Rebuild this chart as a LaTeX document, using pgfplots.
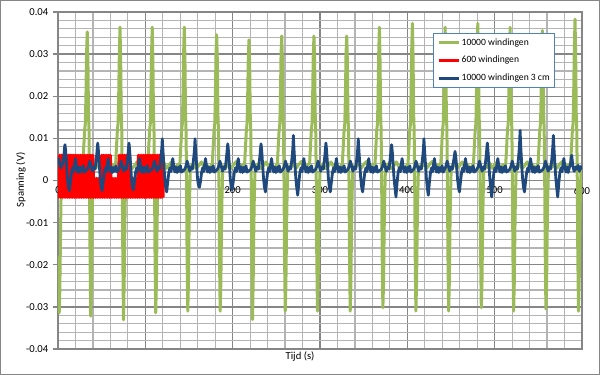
\documentclass[border=0pt]{standalone}
\usepackage{pgfplots}
\pgfplotsset{compat=1.18}
\usepackage{fontspec}
\setmainfont{Carlito}
\definecolor{grn}{RGB}{155,187,89}
\definecolor{blu}{RGB}{31,73,125}
\definecolor{lgblue}{RGB}{79,129,189}
\definecolor{majgrid}{RGB}{134,134,134}
\definecolor{mingrid}{RGB}{180,180,180}
\begin{document}
\begin{tikzpicture}[font=\fontsize{8}{9.6}\selectfont]
\draw[majgrid, line width=0.75pt] (0.375pt,0.375pt) rectangle (449.625pt,280.875pt);
\begin{axis}[
  at={(43.5pt,19.5pt)}, anchor=south west,
  scale only axis, width=393pt, height=252.75pt,
  xmin=0, xmax=600, ymin=-0.04, ymax=0.04,
  scaled x ticks=false, scaled y ticks=false,
  xtick={0,100,200,300,400,500,600},
  xticklabels={0,100,200,300,400,500,600},
  ytick={-0.04,-0.03,-0.02,-0.01,0,0.01,0.02,0.03,0.04},
  yticklabels={-0.04,-0.03,-0.02,-0.01,0,0.01,0.02,0.03,0.04},
  minor xtick={20,40,60,80,120,140,160,180,220,240,260,280,320,340,360,380,420,440,460,480,520,540,560,580},
  minor ytick={-0.038,-0.036,-0.034,-0.032,-0.028,-0.026,-0.024,-0.022,-0.018,-0.016,-0.014,-0.012,-0.008,-0.006,-0.004,-0.002,0.002,0.004,0.006,0.008,0.012,0.014,0.016,0.018,0.022,0.024,0.026,0.028,0.032,0.034,0.036,0.038},
  grid=both,
  major grid style={majgrid, line width=1.1pt},
  minor grid style={mingrid, line width=0.9pt},
  axis line style={majgrid, line width=1.1pt},
  tick style={majgrid, line width=1.1pt},
  xtick style={draw=none},
  minor tick style={draw=none},
  major tick length=3.75pt,
  ytick pos=left, tick align=outside,
  xticklabel style={yshift=128.8pt, font=\fontsize{8}{9.6}\selectfont},
  yticklabel style={font=\fontsize{8}{9.6}\selectfont},
  legend cell align=left,
  legend style={at={(0.7156,0.9377)}, anchor=north west, draw=lgblue, line width=1pt, fill=white,
    font=\fontsize{7.2}{8.6}\selectfont, inner xsep=2.75pt, inner ysep=1.2pt, row sep=2pt,
    nodes={inner xsep=1pt, inner ysep=2.4pt}},
  legend image code/.code={\draw[#1, line width=2.25pt, line cap=butt] (0pt,0pt) -- (15pt,0pt);},
]
\addplot[grn, line width=2.25pt, line join=round] coordinates {
(0,-0.018)(0.6,-0.027)(1.4,-0.0314)(2.1,-0.026)(2.8,-0.014)(3.4,-0.005)(4.2,0.001)(5.2,0.0035)(8,0.0031)(11,0.0042)(14,0.0028)(17,0.0037)(20,0.0044)(23,0.0030)(26,0.0039)
(28.5,0.004)(29.5,0.008)(30.5,0.012)(31.3,0.0135)(32,0.02)(32.7,0.03)(33.5,0.0353)(34.3,0.028)(34.9,0.016)(35.5,0.012)(36.1,0.0)(36.7,-0.018)(37.5,-0.0322)(38.3,-0.024)(38.9,-0.013)(39.5,-0.005)(40.3,0.002)(41.3,0.0035)(44,0.0031)(47,0.0042)(50,0.0029)(53,0.0038)(56,0.0045)(59,0.0030)(62,0.0036)
(66,0.004)(67,0.008)(68,0.012)(68.8,0.0135)(69.5,0.02)(70.2,0.03)(71,0.0364)(71.8,0.028)(72.4,0.016)(73,0.012)(73.6,0.0)(74.2,-0.018)(75,-0.0331)(75.8,-0.024)(76.4,-0.013)(77,-0.005)(77.8,0.002)(78.8,0.0035)(81.5,0.0040)(84.5,0.0028)(87.5,0.0035)(90.5,0.0044)(93.5,0.0032)(96.5,0.0039)(99.5,0.0027)
(102.9,0.004)(103.9,0.008)(104.9,0.012)(105.7,0.0135)(106.4,0.02)(107.1,0.03)(107.9,0.0364)(108.7,0.028)(109.3,0.016)(109.9,0.012)(110.5,0.0)(111.1,-0.018)(111.9,-0.0314)(112.7,-0.024)(113.3,-0.013)(113.9,-0.005)(114.7,0.002)(115.7,0.0035)(118.4,0.0031)(121.4,0.0042)(124.4,0.0029)(127.4,0.0038)(130.4,0.0045)(133.4,0.0030)(136.4,0.0036)
(139.6,0.004)(140.6,0.008)(141.6,0.012)(142.4,0.0135)(143.1,0.02)(143.8,0.03)(144.6,0.0364)(145.4,0.028)(146,0.016)(146.6,0.012)(147.2,0.0)(147.8,-0.018)(148.6,-0.031)(149.4,-0.024)(150,-0.013)(150.6,-0.005)(151.4,0.002)(152.4,0.0035)(155.1,0.0040)(158.1,0.0028)(161.1,0.0035)(164.1,0.0044)(167.1,0.0032)(170.1,0.0039)(173.1,0.0027)
(176.7,0.004)(177.7,0.008)(178.7,0.012)(179.5,0.0135)(180.2,0.02)(180.9,0.03)(181.7,0.0346)(182.5,0.028)(183.1,0.016)(183.7,0.012)(184.3,0.0)(184.9,-0.018)(185.7,-0.031)(186.5,-0.024)(187.1,-0.013)(187.7,-0.005)(188.5,0.002)(189.5,0.0035)(192.2,0.0031)(195.2,0.0042)(198.2,0.0029)(201.2,0.0038)(204.2,0.0045)(207.2,0.0030)(210.2,0.0036)
(213.7,0.004)(214.7,0.008)(215.7,0.012)(216.5,0.0135)(217.2,0.02)(217.9,0.029)(218.7,0.0334)(219.5,0.027)(220.1,0.016)(220.7,0.012)(221.3,0.0)(221.9,-0.018)(222.7,-0.033)(223.5,-0.024)(224.1,-0.013)(224.7,-0.005)(225.5,0.002)(226.5,0.0035)(229.2,0.0040)(232.2,0.0028)(235.2,0.0035)(238.2,0.0044)(241.2,0.0032)(244.2,0.0039)(247.2,0.0027)
(251.2,0.004)(252.2,0.008)(253.2,0.012)(254,0.0135)(254.7,0.02)(255.4,0.03)(256.2,0.0343)(257,0.028)(257.6,0.016)(258.2,0.012)(258.8,0.0)(259.4,-0.018)(260.2,-0.031)(261,-0.024)(261.6,-0.013)(262.2,-0.005)(263,0.002)(264,0.0035)(266.7,0.0031)(269.7,0.0042)(272.7,0.0029)(275.7,0.0038)(278.7,0.0045)(281.7,0.0030)(284.7,0.0036)
(288.1,0.004)(289.1,0.008)(290.1,0.012)(290.9,0.0135)(291.6,0.02)(292.3,0.03)(293.1,0.0343)(293.9,0.028)(294.5,0.016)(295.1,0.012)(295.7,0.0)(296.3,-0.018)(297.1,-0.031)(297.9,-0.024)(298.5,-0.013)(299.1,-0.005)(299.9,0.002)(300.9,0.0035)(303.6,0.0040)(306.6,0.0028)(309.6,0.0035)(312.6,0.0044)(315.6,0.0032)(318.6,0.0039)(321.6,0.0027)
(325.6,0.004)(326.6,0.008)(327.6,0.012)(328.4,0.0135)(329.1,0.02)(329.8,0.03)(330.6,0.0343)(331.4,0.028)(332,0.016)(332.6,0.012)(333.2,0.0)(333.8,-0.018)(334.6,-0.031)(335.4,-0.024)(336,-0.013)(336.6,-0.005)(337.4,0.002)(338.4,0.0035)(341.1,0.0031)(344.1,0.0042)(347.1,0.0029)(350.1,0.0038)(353.1,0.0045)(356.1,0.0030)(359.1,0.0036)
(363,0.004)(364,0.008)(365,0.012)(365.8,0.0135)(366.5,0.02)(367.2,0.03)(368,0.0364)(368.8,0.028)(369.4,0.016)(370,0.012)(370.6,0.0)(371.2,-0.018)(372,-0.0302)(372.8,-0.024)(373.4,-0.013)(374,-0.005)(374.8,0.002)(375.8,0.0035)(378.5,0.0040)(381.5,0.0028)(384.5,0.0035)(387.5,0.0044)(390.5,0.0032)(393.5,0.0039)(396.5,0.0027)
(400.8,0.004)(401.8,0.008)(402.8,0.012)(403.6,0.0135)(404.3,0.021)(405,0.031)(405.8,0.0373)(406.6,0.029)(407.2,0.016)(407.8,0.012)(408.4,0.0)(409,-0.018)(409.8,-0.031)(410.6,-0.024)(411.2,-0.013)(411.8,-0.005)(412.6,0.002)(413.6,0.0035)(416.3,0.0031)(419.3,0.0042)(422.3,0.0029)(425.3,0.0038)(428.3,0.0045)(431.3,0.0030)(434.3,0.0036)
(438.3,0.004)(439.3,0.008)(440.3,0.012)(441.1,0.0135)(441.8,0.02)(442.5,0.03)(443.3,0.0364)(444.1,0.028)(444.7,0.016)(445.3,0.012)(445.9,0.0)(446.5,-0.018)(447.3,-0.031)(448.1,-0.024)(448.7,-0.013)(449.3,-0.005)(450.1,0.002)(451.1,0.0035)(453.8,0.0040)(456.8,0.0028)(459.8,0.0035)(462.8,0.0044)(465.8,0.0032)(468.8,0.0039)(471.8,0.0027)
(475.7,0.004)(476.7,0.008)(477.7,0.012)(478.5,0.0135)(479.2,0.021)(479.9,0.031)(480.7,0.0373)(481.5,0.029)(482.1,0.016)(482.7,0.012)(483.3,0.0)(483.9,-0.018)(484.7,-0.0302)(485.5,-0.024)(486.1,-0.013)(486.7,-0.005)(487.5,0.002)(488.5,0.0035)(491.2,0.0031)(494.2,0.0042)(497.2,0.0029)(500.2,0.0038)(503.2,0.0045)(506.2,0.0030)(509.2,0.0036)
(512.7,0.004)(513.7,0.008)(514.7,0.012)(515.5,0.0135)(516.2,0.02)(516.9,0.03)(517.7,0.0364)(518.5,0.028)(519.1,0.016)(519.7,0.012)(520.3,0.0)(520.9,-0.018)(521.7,-0.031)(522.5,-0.024)(523.1,-0.013)(523.7,-0.005)(524.5,0.002)(525.5,0.0035)(528.2,0.0040)(531.2,0.0028)(534.2,0.0035)(537.2,0.0044)(540.2,0.0032)(543.2,0.0039)(546.2,0.0027)
(549.7,0.004)(550.7,0.008)(551.7,0.012)(552.5,0.0135)(553.2,0.02)(553.9,0.03)(554.7,0.0356)(555.5,0.028)(556.1,0.016)(556.7,0.012)(557.3,0.0)(557.9,-0.018)(558.7,-0.0305)(559.5,-0.024)(560.1,-0.013)(560.7,-0.005)(561.5,0.002)(562.5,0.0035)(565.2,0.0031)(568.2,0.0042)(571.2,0.0029)(574.2,0.0038)(577.2,0.0045)(580.2,0.0030)(583.2,0.0036)
(587,0.004)(588,0.008)(589,0.012)(589.8,0.0135)(590.5,0.021)(591.2,0.031)(592,0.0383)(592.8,0.029)(593.4,0.016)(594,0.012)(594.6,0.0)(595.2,-0.018)(596,-0.031)(596.8,-0.024)(597.4,-0.013)(598,-0.005)(598.8,0.002)(599.8,0.003)
};
\addlegendentry{10000 windingen}
\addplot[red, line width=2.25pt, line join=round] coordinates {
(0,0.006)(1,-0.004)(2,0.006)(3,-0.004)(4,0.006)(5,-0.004)(6,0.006)(7,-0.004)(8,0.006)(9,-0.004)(10,0.006)(11,-0.004)(12,0.006)(13,-0.004)(14,0.006)(15,-0.004)(16,0.006)(17,-0.004)(18,0.006)(19,-0.004)
(20,0.006)(21,-0.004)(22,0.006)(23,-0.004)(24,0.006)(25,-0.004)(26,0.006)(27,-0.004)(28,0.006)(29,-0.004)(30,0.006)(31,-0.004)(32,0.006)(33,-0.004)(34,0.006)(35,-0.004)(36,0.006)(37,-0.004)(38,0.006)(39,-0.004)
(40,0.006)(41,-0.004)(42,0.0005)(43,-0.004)(44,0.0005)(45,-0.004)(46,0.0005)(47,-0.004)(48,0.0005)(49,-0.004)(50,0.006)(51,-0.004)(52,0.006)(53,-0.004)(54,0.006)(55,-0.004)(56,0.006)(57,-0.004)(58,0.006)(59,-0.004)
(60,0.006)(61,-0.004)(62,0.0005)(63,-0.004)(64,0.0005)(65,-0.004)(66,0.0005)(67,-0.004)(68,0.0005)(69,-0.004)(70,0.006)(71,-0.004)(72,0.006)(73,-0.004)(74,0.006)(75,-0.004)(76,0.006)(77,-0.004)(78,0.006)(79,-0.004)
(80,0.006)(81,-0.004)(82,0.006)(83,-0.004)(84,0.0005)(85,-0.004)(86,0.0005)(87,-0.004)(88,0.0005)(89,-0.004)(90,0.0005)(91,-0.004)(92,0.006)(93,-0.004)(94,0.006)(95,-0.004)(96,0.006)(97,-0.004)(98,0.006)(99,-0.004)
(100,0.006)(101,-0.004)(102,0.006)(103,-0.004)(104,0.006)(105,-0.004)(106,0.006)(107,-0.004)(108,0.006)(109,-0.004)(110,0.006)(111,-0.004)(112,0.006)(113,-0.004)(114,0.006)(115,-0.004)(116,0.006)(117,-0.004)(118,0.006)(119,-0.004)
(120,0.006)(120.5,-0.004)
};
\addlegendentry{600 windingen}
\addplot[blu, line width=2.1pt, line join=round] coordinates {
(0,0.0040)(1,0.0052)(2.2,0.0036)(3.5,0.0030)(4.8,0.0038)(6,0.0045)(6.8,0.0060)(7.5,0.0078)(8,0.0085)(8.8,0.0070)(9.8,0.0038)(10.8,0.0006)(11.8,-0.0014)(13,-0.0024)(14.3,-0.0002)(15.5,0.0019)(16.8,0.0030)(18,0.0021)(19,0.0038)(20,0.0052)(21.2,0.0033)(22.5,0.0020)(23.8,0.0032)(25,0.0019)(26.3,0.0031)(27.5,0.0022)(28.8,0.0035)(30,0.0020)
(33.5,0.0026)(35,0.0033)(36.5,0.0046)(38,0.0034)(39.5,0.0022)(41,0.0032)(42.5,0.0027)(43.5,0.0045)(44.3,0.0060)(45,0.0078)(45.5,0.0089)(46.3,0.0070)(47.3,0.0038)(48.3,0.0006)(49.3,-0.0014)(50.5,-0.0024)(51.8,-0.0002)(53,0.0019)(54.3,0.0030)(55.5,0.0021)(56.5,0.0038)(57.5,0.0052)(58.7,0.0033)(60,0.0020)(61.3,0.0032)(62.5,0.0019)(63.8,0.0031)(65,0.0022)(66.3,0.0035)(67.5,0.0020)
(69.3,0.0026)(70.8,0.0033)(72.3,0.0046)(73.8,0.0034)(75.3,0.0022)(76.8,0.0032)(78.3,0.0027)(79.3,0.0045)(80.1,0.0060)(80.8,0.0078)(81.3,0.0089)(82.1,0.0070)(83.1,0.0038)(84.1,0.0006)(85.1,-0.0014)(86.3,-0.0022)(87.6,-0.0002)(88.8,0.0019)(90.1,0.0030)(91.3,0.0021)(92.3,0.0038)(93.3,0.0052)(94.5,0.0033)(95.8,0.0020)(97.1,0.0032)(98.3,0.0019)(99.6,0.0031)(100.8,0.0022)(102.1,0.0035)(103.3,0.0020)
(107.4,0.0026)(108.9,0.0033)(110.4,0.0046)(111.9,0.0034)(113.4,0.0022)(114.9,0.0032)(116.4,0.0027)(117.4,0.0045)(118.2,0.0060)(118.9,0.0078)(119.4,0.0099)(120.2,0.0070)(121.2,0.0038)(122.2,0.0006)(123.2,-0.0014)(124.4,-0.0027)(125.7,-0.0002)(126.9,0.0019)(128.2,0.0030)(129.4,0.0021)(130.4,0.0038)(131.4,0.0052)(132.6,0.0033)(133.9,0.0020)(135.2,0.0032)(136.4,0.0019)(137.7,0.0031)(138.9,0.0022)(140.2,0.0035)(141.4,0.0020)
(144.9,0.0026)(146.4,0.0033)(147.9,0.0046)(149.4,0.0034)(150.9,0.0022)(152.4,0.0032)(153.9,0.0027)(154.9,0.0045)(155.7,0.0060)(156.4,0.0078)(156.9,0.0099)(157.7,0.0070)(158.7,0.0038)(159.7,0.0006)(160.7,-0.0010)(161.9,-0.0016)(163.2,-0.0002)(164.4,0.0019)(165.7,0.0030)(166.9,0.0021)(167.9,0.0038)(168.9,0.0052)(170.1,0.0033)(171.4,0.0020)(172.7,0.0032)(173.9,0.0019)(175.2,0.0031)(176.4,0.0022)(177.7,0.0035)(178.9,0.0020)
(182.4,0.0026)(183.9,0.0033)(185.4,0.0046)(186.9,0.0034)(188.4,0.0022)(189.9,0.0032)(191.4,0.0027)(192.4,0.0045)(193.2,0.0060)(193.9,0.0078)(194.4,0.0087)(195.2,0.0070)(196.2,0.0038)(197.2,0.0006)(198.2,-0.0014)(199.4,-0.0022)(200.7,-0.0002)(201.9,0.0019)(203.2,0.0030)(204.4,0.0021)(205.4,0.0038)(206.4,0.0052)(207.6,0.0033)(208.9,0.0020)(210.2,0.0032)(211.4,0.0019)(212.7,0.0031)(213.9,0.0022)(215.2,0.0035)(216.4,0.0020)
(220.5,0.0026)(222,0.0033)(223.5,0.0046)(225,0.0034)(226.5,0.0022)(228,0.0032)(229.5,0.0027)(230.5,0.0045)(231.3,0.0060)(232,0.0078)(232.5,0.0087)(233.3,0.0070)(234.3,0.0038)(235.3,0.0006)(236.3,-0.0014)(237.5,-0.0027)(238.8,-0.0002)(240,0.0019)(241.3,0.0030)(242.5,0.0021)(243.5,0.0038)(244.5,0.0052)(245.7,0.0033)(247,0.0020)(248.3,0.0032)(249.5,0.0019)(250.8,0.0031)(252,0.0022)(253.3,0.0035)(254.5,0.0020)
(257.5,0.0026)(259,0.0033)(260.5,0.0046)(262,0.0034)(263.5,0.0022)(265,0.0032)(266.5,0.0027)(267.5,0.0045)(268.3,0.0060)(269,0.0080)(269.5,0.0107)(270.3,0.0072)(271.3,0.0038)(272.3,0.0006)(273.3,-0.0016)(274.5,-0.0035)(275.8,-0.0004)(277,0.0019)(278.3,0.0030)(279.5,0.0021)(280.5,0.0038)(281.5,0.0052)(282.7,0.0033)(284,0.0020)(285.3,0.0032)(286.5,0.0019)(287.8,0.0031)(289,0.0022)(290.3,0.0035)(291.5,0.0020)
(294.8,0.0026)(296.3,0.0033)(297.8,0.0046)(299.3,0.0034)(300.8,0.0022)(302.3,0.0032)(303.8,0.0027)(304.8,0.0045)(305.6,0.0060)(306.3,0.0078)(306.8,0.0089)(307.6,0.0070)(308.6,0.0038)(309.6,0.0006)(310.6,-0.0014)(311.8,-0.0027)(313.1,-0.0002)(314.3,0.0019)(315.6,0.0030)(316.8,0.0021)(317.8,0.0038)(318.8,0.0052)(320,0.0033)(321.3,0.0020)(322.6,0.0032)(323.8,0.0019)(325.1,0.0031)(326.3,0.0022)(327.6,0.0035)(328.8,0.0020)
(331.8,0.0026)(333.3,0.0033)(334.8,0.0046)(336.3,0.0034)(337.8,0.0022)(339.3,0.0032)(340.8,0.0027)(341.8,0.0045)(342.6,0.0060)(343.3,0.0078)(343.8,0.0099)(344.6,0.0070)(345.6,0.0038)(346.6,0.0006)(347.6,-0.0014)(348.8,-0.0027)(350.1,-0.0002)(351.3,0.0019)(352.6,0.0030)(353.8,0.0021)(354.8,0.0038)(355.8,0.0052)(357,0.0033)(358.3,0.0020)(359.6,0.0032)(360.8,0.0019)(362.1,0.0031)(363.3,0.0022)(364.6,0.0035)(365.8,0.0020)
(370,0.0026)(371.5,0.0033)(373,0.0046)(374.5,0.0034)(376,0.0022)(377.5,0.0032)(379,0.0027)(380,0.0045)(380.8,0.0060)(381.5,0.0078)(382,0.0085)(382.8,0.0068)(383.8,0.0036)(384.8,0.0004)(385.8,-0.0016)(387,-0.0039)(388.3,-0.0004)(389.5,0.0019)(390.8,0.0030)(392,0.0021)(393,0.0038)(394,0.0052)(395.2,0.0033)(396.5,0.0020)(397.8,0.0032)(399,0.0019)(400.3,0.0031)(401.5,0.0022)(402.8,0.0035)(404,0.0020)
(407,0.0026)(408.5,0.0033)(410,0.0046)(411.5,0.0034)(413,0.0022)(414.5,0.0032)(416,0.0027)(417,0.0045)(417.8,0.0060)(418.5,0.0078)(419,0.0099)(419.8,0.0070)(420.8,0.0038)(421.8,0.0006)(422.8,-0.0016)(424,-0.0035)(425.3,-0.0004)(426.5,0.0019)(427.8,0.0030)(429,0.0021)(430,0.0038)(431,0.0052)(432.2,0.0033)(433.5,0.0020)(434.8,0.0032)(436,0.0019)(437.3,0.0031)(438.5,0.0022)(439.8,0.0035)(441,0.0020)
(442.6,0.0026)(444.1,0.0033)(445.6,0.0046)(447.1,0.0034)(448.6,0.0022)(450.1,0.0032)(451.6,0.0027)(452.6,0.0042)(453.4,0.0052)(454.1,0.0062)(454.6,0.0069)(455.4,0.0058)(456.4,0.0034)(457.4,0.0006)(458.4,-0.0014)(459.6,-0.0027)(460.9,-0.0002)(462.1,0.0019)(463.4,0.0030)(464.6,0.0021)(465.6,0.0038)(466.6,0.0052)(467.8,0.0033)(469.1,0.0020)(470.4,0.0032)(471.6,0.0019)(472.9,0.0031)(474.1,0.0022)(475.4,0.0035)(476.6,0.0020)
(479.6,0.0026)(481.1,0.0033)(482.6,0.0046)(484.1,0.0034)(485.6,0.0022)(487.1,0.0032)(488.6,0.0027)(489.6,0.0045)(490.4,0.0060)(491.1,0.0078)(491.6,0.0089)(492.4,0.0070)(493.4,0.0038)(494.4,0.0006)(495.4,-0.0016)(496.6,-0.0039)(497.9,-0.0004)(499.1,0.0019)(500.4,0.0030)(501.6,0.0021)(502.6,0.0038)(503.6,0.0052)(504.8,0.0033)(506.1,0.0020)(507.4,0.0032)(508.6,0.0019)(509.9,0.0031)(511.1,0.0022)(512.4,0.0035)(513.6,0.0020)
(517.1,0.0026)(518.6,0.0033)(520.1,0.0046)(521.6,0.0034)(523.1,0.0022)(524.6,0.0032)(526.1,0.0027)(527.1,0.0048)(527.9,0.0068)(528.6,0.0092)(529.1,0.0119)(529.9,0.0080)(530.9,0.0040)(531.9,0.0006)(532.9,-0.0014)(534.1,-0.0027)(535.4,-0.0002)(536.6,0.0019)(537.9,0.0030)(539.1,0.0021)(540.1,0.0038)(541.1,0.0052)(542.3,0.0033)(543.6,0.0020)(544.9,0.0032)(546.1,0.0019)(547.4,0.0031)(548.6,0.0022)(549.9,0.0035)(551.1,0.0020)
(555.2,0.0026)(556.7,0.0033)(558.2,0.0046)(559.7,0.0034)(561.2,0.0022)(562.7,0.0032)(564.2,0.0027)(565.2,0.0046)(566,0.0064)(566.7,0.0085)(567.2,0.0107)(568,0.0074)(569,0.0038)(570,0.0006)(571,-0.0016)(572.2,-0.0039)(573.5,-0.0004)(574.7,0.0019)(576,0.0030)(577.2,0.0021)(578.2,0.0038)(579.2,0.0052)(580.4,0.0033)(581.7,0.0020)(583,0.0032)(584.2,0.0019)(585.5,0.0031)(586.7,0.0038)(588.2,0.0060)(589.5,0.0034)(591,0.0022)(592.5,0.0032)(594,0.0027)(595.5,0.0036)(597,0.0022)(598.5,0.0033)(600,0.0026)
};
\addlegendentry{10000 windingen 3 cm}
\end{axis}
\node[rotate=90] at (15.75pt,146.25pt) {Spanning (V)};
\node at (225pt,13.5pt) {Tijd (s)};
\end{tikzpicture}
\end{document}
